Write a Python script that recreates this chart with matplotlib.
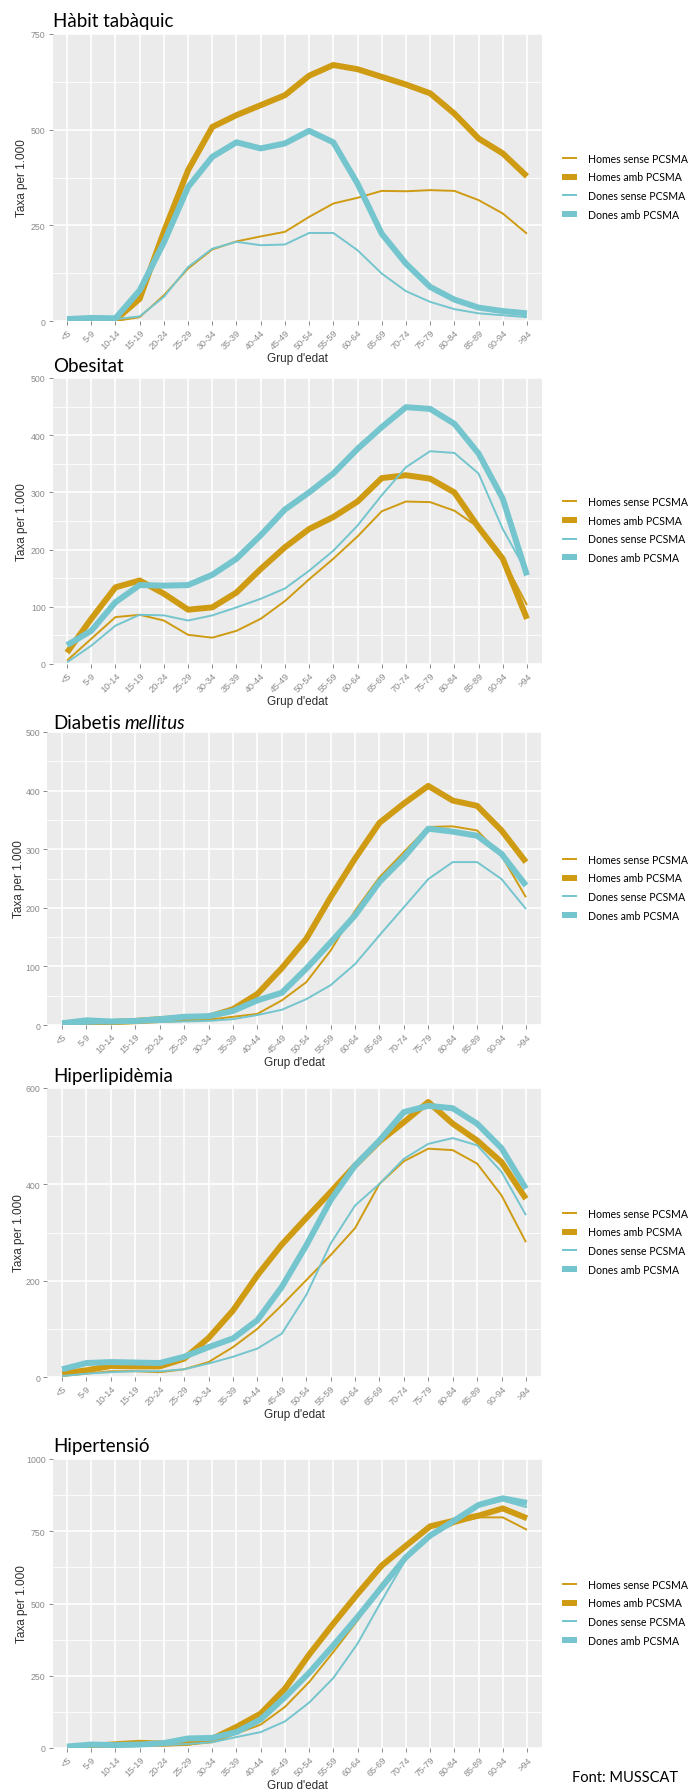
import matplotlib
matplotlib.use("Agg")
import matplotlib.pyplot as plt
from matplotlib.lines import Line2D

# age groups
grups = ["<5", "5-9", "10-14", "15-19", "20-24", "25-29", "30-34", "35-39", "40-44", "45-49",
         "50-54", "55-59", "60-64", "65-69", "70-74", "75-79", "80-84", "85-89", "90-94", ">94"]

series = ["Homes sense PCSMA", "Homes amb PCSMA", "Dones sense PCSMA", "Dones amb PCSMA"]

# Hàbit tabàquic
tab_homes_sense = [0, 0, 0, 10, 67, 137, 187, 208, 221, 233, 272, 307, 322, 340, 339, 342, 340, 316, 281, 228]
tab_homes_amb = [3, 5, 3, 58, 233, 394, 507, 538, 564, 590, 641, 669, 658, 638, 618, 595, 542, 477, 438, 378]
tab_dones_sense = [3, 5, 5, 12, 63, 141, 189, 207, 198, 200, 230, 230, 185, 124, 78, 50, 31, 20, 15, 10]
tab_dones_amb = [5, 8, 7, 80, 205, 350, 429, 467, 451, 464, 497, 467, 359, 228, 150, 89, 56, 35, 26, 20]

# Obesitat
obe_homes_sense = [6, 44, 82, 86, 76, 51, 46, 58, 79, 110, 148, 184, 223, 267, 284, 283, 268, 239, 184, 103]
obe_homes_amb = [20, 79, 134, 146, 123, 95, 99, 125, 166, 204, 236, 257, 284, 325, 330, 324, 300, 239, 184, 79]
obe_dones_sense = [3, 32, 67, 86, 85, 76, 85, 99, 114, 132, 163, 198, 242, 295, 344, 372, 369, 333, 236, 160]
obe_dones_amb = [33, 58, 108, 138, 137, 138, 156, 184, 225, 270, 300, 333, 376, 414, 449, 446, 420, 368, 289, 155]

# Diabetis mellitus
dia_homes_sense = [1, 1, 2, 3, 5, 7, 9, 14, 19, 42, 73, 127, 195, 252, 295, 338, 339, 332, 289, 218]
dia_homes_amb = [2, 3, 5, 7, 10, 12, 14, 27, 53, 97, 147, 218, 284, 345, 378, 408, 383, 374, 332, 278]
dia_dones_sense = [1, 2, 3, 4, 5, 6, 7, 10, 17, 26, 44, 68, 104, 153, 201, 249, 278, 278, 249, 198]
dia_dones_amb = [3, 8, 6, 7, 10, 14, 15, 24, 42, 55, 96, 141, 187, 244, 286, 335, 330, 323, 292, 238]

# Hiperlipidèmia
hip_homes_sense = [2, 7, 12, 12, 10, 16, 31, 62, 100, 149, 201, 253, 309, 401, 448, 474, 471, 443, 377, 280]
hip_homes_amb = [7, 14, 23, 22, 22, 38, 81, 138, 211, 275, 330, 384, 439, 489, 529, 571, 526, 491, 446, 370]
hip_dones_sense = [2, 7, 10, 12, 12, 16, 28, 42, 59, 90, 170, 277, 356, 401, 453, 484, 496, 481, 426, 336]
hip_dones_amb = [16, 29, 31, 30, 29, 42, 62, 80, 118, 187, 273, 367, 439, 491, 550, 563, 558, 526, 475, 391]

# Hipertensió
hta_homes_sense = [1, 3, 5, 7, 9, 12, 20, 50, 81, 142, 228, 332, 441, 568, 666, 741, 775, 798, 798, 755]
hta_homes_amb = [2, 7, 13, 18, 15, 18, 32, 73, 119, 205, 323, 430, 533, 631, 700, 767, 787, 804, 829, 795]
hta_dones_sense = [3, 6, 6, 8, 10, 14, 20, 38, 55, 92, 157, 242, 361, 510, 654, 733, 795, 836, 856, 833]
hta_dones_amb = [5, 12, 10, 12, 17, 33, 35, 55, 99, 176, 260, 355, 453, 557, 660, 735, 787, 841, 864, 848]

gold = "#CF9B12"
teal = "#74C5CE"
colors = [gold, gold, teal, teal]
widths = [1.4, 4.3, 1.4, 4.3]

W, H = 690, 1790
fig = plt.figure(figsize=(W / 100, H / 100), dpi=100)

def px(l, t, r, b):
    return [l / W, 1 - b / H, (r - l) / W, (b - t) / H]

panels = [
    ("Hàbit tabàquic", [tab_homes_sense, tab_homes_amb, tab_dones_sense, tab_dones_amb],
     [0, 250, 500, 750], (52.5, 35, 541.5, 322), 27),
    ("Obesitat", [obe_homes_sense, obe_homes_amb, obe_dones_sense, obe_dones_amb],
     [0, 100, 200, 300, 400, 500], (52.5, 379, 541.5, 665), 372),
    ("Diabetis", [dia_homes_sense, dia_homes_amb, dia_dones_sense, dia_dones_amb],
     [0, 100, 200, 300, 400, 500], (47.4, 733, 540.6, 1026), 729),
    ("Hiperlipidèmia", [hip_homes_sense, hip_homes_amb, hip_dones_sense, hip_dones_amb],
     [0, 200, 400, 600], (47.4, 1089, 540.6, 1378), 1082),
    ("Hipertensió", [hta_homes_sense, hta_homes_amb, hta_dones_sense, hta_dones_amb],
     [0, 250, 500, 750, 1000], (52.5, 1460, 541.5, 1749), 1452),
]

x = list(range(len(grups)))

for title, data, yticks, box, title_y in panels:
    l, t, r, b = box
    ax = fig.add_axes(px(l, t, r, b))
    ax.set_facecolor("#EBEBEB")
    for s in ax.spines.values():
        s.set_visible(False)

    # minor grid halfway between major ticks
    step = yticks[1] - yticks[0]
    for v in yticks[:-1]:
        ax.axhline(v + step / 2, color="white", lw=0.6, zorder=0)
    for v in yticks:
        ax.axhline(v, color="white", lw=1.2, zorder=0)
    for xi in x:
        ax.axvline(xi, color="white", lw=1.2, zorder=0)

    for vals, c, w in zip(data, colors, widths):
        ax.plot(x, vals, color=c, lw=w, solid_joinstyle="round", solid_capstyle="butt", zorder=2)

    ax.set_xlim(-0.6, 19.6)
    ax.set_ylim(0, yticks[-1])
    ax.set_xticks(x)
    ax.set_xticklabels(grups, rotation=45, ha="right", rotation_mode="anchor",
                       fontsize=6.6, color="#8A8A8A", family="Liberation Sans")
    ax.set_yticks(yticks)
    ax.set_yticklabels([str(v) for v in yticks], fontsize=6.3, color="#8A8A8A", family="Liberation Sans")
    ax.tick_params(length=3, width=0.7, color="#8A8A8A", pad=2)
    ax.set_axisbelow(True)

    fig.text(22 / W if l > 50 else 19 / W, 1 - ((t + b) / 2) / H, "Taxa per 1.000", rotation=90,
             ha="center", va="center", fontsize=8.5, color="#2E2E2E", family="Liberation Sans")
    fig.text(((l + r) / 2) / W, 1 - (b + 37) / H, "Grup d'edat", ha="center", va="center",
             fontsize=8.5, color="#2E2E2E", family="Liberation Sans")

    # title
    tt = fig.text(53 / W, 1 - title_y / H, title, ha="left", va="baseline",
                  fontsize=13.5, family="Lato", color="black")
    if title == "Diabetis":
        fig.canvas.draw()
        bb = tt.get_window_extent()
        fig.text((bb.x1 + 4) / W, 1 - title_y / H, "mellitus", ha="left", va="baseline",
                 fontsize=13.5, family="Lato", style="italic", color="black")

    handles = [Line2D([0], [0], color=c, lw=w, solid_capstyle="butt") for c, w in zip(colors, widths)]
    ax.legend(handles, series, loc="center left", bbox_to_anchor=((558 - l) / (r - l), 0.47),
              frameon=False, handlelength=1.4, handletextpad=1.0,
              labelspacing=0.72, borderaxespad=0, prop={"family": "Lato", "size": 7.6})

fig.text(678 / W, 1 - 1782 / H, "Font: MUSSCAT", ha="right", va="baseline",
         fontsize=10.5, family="Lato", color="black")

fig.savefig("out.png", dpi=100)
